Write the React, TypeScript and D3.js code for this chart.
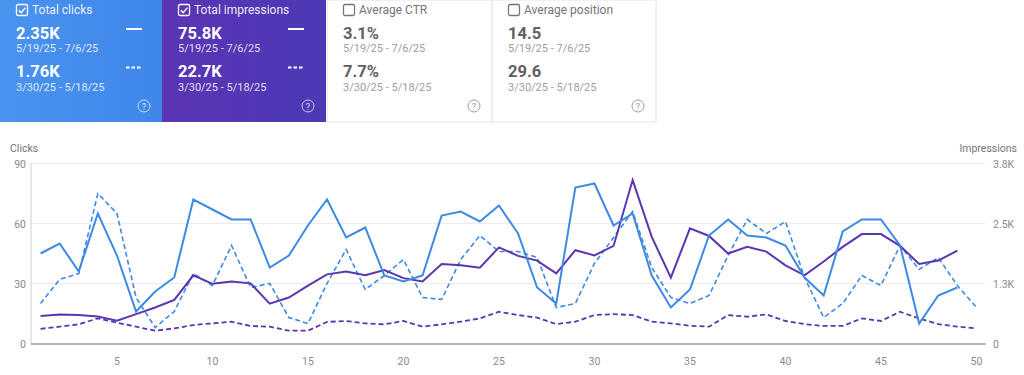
import React from "react";
import * as d3 from "d3";

const clicksCurrent = [45,50,36,65,44,16,26,33,72,67,62,62,38,44,59,72,53,58,34,31,34,64,66,61,69,55,28,20,78,80,59,65,34,18,27,54,62,54,53,49,33,24,56,62,62,49,10,24,28];
const clicksPrevious = [20,32,35,75,65,23,8,16,35,29,49,28,30,13,10,30,47,27,34,42,23,22,42,54,46,46,43,18,20,40,53,66,38,23,20,24,44,62,55,61,33,13,20,34,29,49,37,43,29,18];
const impressionsCurrent = [580,610,600,570,480,620,760,920,1440,1260,1310,1270,840,970,1220,1460,1520,1440,1550,1380,1310,1680,1650,1600,2030,1850,1750,1480,1970,1860,2060,3450,2250,1390,2430,2270,1900,2040,1940,1650,1440,1730,2040,2310,2310,2060,1680,1750,1960];
const impressionsPrevious = [310,355,405,530,440,355,270,320,390,425,460,370,355,270,270,455,475,425,405,475,355,405,460,530,670,600,545,410,460,600,620,600,460,425,375,355,600,565,615,475,410,370,370,530,475,670,530,410,355,320];

const clickTicks = [0, 30, 60, 90];
const impressionTicks = [0, 3800 / 3, 7600 / 3, 3800];
const impressionTickLabels = ["0", "1.3K", "2.5K", "3.8K"];
const dayTicks = [5, 10, 15, 20, 25, 30, 35, 40, 45, 50];

const cardTitles = ["Total clicks", "Total impressions", "Average CTR", "Average position"];
const cardCurrentValues = ["2.35K", "75.8K", "3.1%", "14.5"];
const cardPreviousValues = ["1.76K", "22.7K", "7.7%", "29.6"];
const currentRange = "5/19/25 - 7/6/25";
const previousRange = "3/30/25 - 5/18/25";

const BLUE = "#3d8ae6";
const PURPLE = "#5b36b0";
const FONT = "Roboto, 'Noto Sans', sans-serif";

function Card({ i, x, w }: { i: number; x: number; w: number }) {
  const active = i < 2;
  const bg = i === 0 ? "url(#gBlue)" : i === 1 ? "url(#gPurple)" : "#ffffff";
  const txt = active ? "#ffffff" : "#616161";
  const sub = active ? "rgba(255,255,255,0.85)" : "#9e9e9e";
  const lab = active ? "rgba(255,255,255,0.92)" : "#757575";
  return (
    <g transform={`translate(${x},0)`}>
      <rect x={0} y={0} width={w} height={122} fill={bg} stroke={active ? "none" : "#e3e3e3"} />
      <rect x={16.5} y={4.5} width={11} height={11} rx={1.5} fill="none" stroke={active ? "#fff" : "#757575"} strokeWidth={1.3} />
      {active && <path d="M18.8,10.2 L21.2,12.6 L25.4,7.6" fill="none" stroke="#fff" strokeWidth={1.4} />}
      <text x={32} y={14} fontSize={12} fill={lab} fontFamily={FONT}>{cardTitles[i]}</text>
      <text x={16} y={38.5} fontSize={16.5} fontWeight={700} fill={txt} fontFamily={FONT}>{cardCurrentValues[i]}</text>
      <text x={16} y={52} fontSize={11} fill={sub} fontFamily={FONT}>{currentRange}</text>
      <text x={16} y={77} fontSize={16.5} fontWeight={700} fill={txt} fontFamily={FONT}>{cardPreviousValues[i]}</text>
      <text x={16} y={90.5} fontSize={11} fill={sub} fontFamily={FONT}>{previousRange}</text>
      {active && <line x1={126} x2={142} y1={29} y2={29} stroke="#fff" strokeWidth={2} />}
      {active && <line x1={126} x2={142} y1={67.5} y2={67.5} stroke="#fff" strokeWidth={2} strokeDasharray="3.5,2" />}
      <circle cx={w - 18} cy={106} r={6} fill="none" stroke={active ? "rgba(255,255,255,0.7)" : "#9e9e9e"} strokeWidth={1} />
      <text x={w - 18} y={109.5} fontSize={9} textAnchor="middle" fill={active ? "rgba(255,255,255,0.8)" : "#9e9e9e"} fontFamily={FONT}>?</text>
    </g>
  );
}

export default function App() {
  const x = d3.scaleLinear().domain([0.5, 50.5]).range([31, 986]);
  const yC = d3.scaleLinear().domain([0, 90]).range([343.5, 163.5]);
  const yI = d3.scaleLinear().domain([0, 3800]).range([343.5, 163.5]);
  const lineC = d3.line<number>().x((_, i) => x(i + 1)).y((d) => yC(d));
  const lineI = d3.line<number>().x((_, i) => x(i + 1)).y((d) => yI(d));
  const cardX = [0, 162, 327, 492];
  const cardW = [162, 164, 165, 164];
  return (
    <svg width={1024} height={375} style={{ position: "absolute", left: 0, top: 0, background: "#fff" }} fontFamily={FONT}>
      <defs>
        <linearGradient id="gBlue" x1="0" x2="1" y1="0" y2="0">
          <stop offset="0" stopColor="#4a93ee" />
          <stop offset="1" stopColor="#3f86ea" />
        </linearGradient>
        <linearGradient id="gPurple" x1="0" x2="1" y1="0" y2="0">
          <stop offset="0" stopColor="#5b34b3" />
          <stop offset="1" stopColor="#4c39b6" />
        </linearGradient>
      </defs>
      {cardTitles.map((_, i) => (
        <Card key={i} i={i} x={cardX[i]} w={cardW[i]} />
      ))}
      <text x={10} y={152} fontSize={10.5} fill="#757575">Clicks</text>
      <text x={1017} y={152} fontSize={10.5} fill="#757575" textAnchor="end">Impressions</text>
      {clickTicks.map((t) => (
        <g key={t}>
          {t > 0 && <line x1={31} x2={985} y1={yC(t)} y2={yC(t)} stroke="#ececec" strokeWidth={1} />}
          <text x={26} y={yC(t) + 4} fontSize={10.5} fill="#8a8a8a" textAnchor="end">{t}</text>
        </g>
      ))}
      {impressionTicks.map((t, i) => (
        <text key={i} x={993} y={yI(t) + 4} fontSize={10.5} fill="#8a8a8a">{impressionTickLabels[i]}</text>
      ))}
      <line x1={31} x2={31} y1={163} y2={344} stroke="#cfcfcf" strokeWidth={1} />
      <line x1={31} x2={986} y1={344} y2={344} stroke="#9e9e9e" strokeWidth={1.3} />
      {dayTicks.map((d) => (
        <text key={d} x={x(d)} y={365} fontSize={10.5} fill="#8a8a8a" textAnchor="middle">{d}</text>
      ))}
      <path d={lineI(impressionsPrevious) || ""} fill="none" stroke={PURPLE} strokeWidth={1.8} strokeDasharray="5,3" />
      <path d={lineC(clicksPrevious) || ""} fill="none" stroke={BLUE} strokeWidth={1.6} strokeDasharray="5,3" />
      <path d={lineI(impressionsCurrent) || ""} fill="none" stroke={PURPLE} strokeWidth={2} />
      <path d={lineC(clicksCurrent) || ""} fill="none" stroke={BLUE} strokeWidth={2} />
    </svg>
  );
}
